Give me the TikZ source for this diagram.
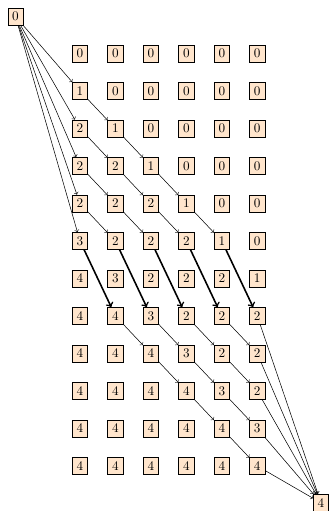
\documentclass[tikz,border=0pt]{standalone}
\begin{document}
\begin{tikzpicture}[cell/.style={draw, fill=orange!20}]
    \useasboundingbox (0,0) rectangle (8.747,-13.627);
    % start and end
    \node[cell] (start) at (0.413,-0.44) {$0$};
    \node[cell] (stop) at (8.56,-13.41) {$4$};
    % grid of values
    \foreach \vals [count=\r] in {{0,0,0,0,0,0},{1,0,0,0,0,0},{2,1,0,0,0,0},
        {2,2,1,0,0,0},{2,2,2,1,0,0},{3,2,2,2,1,0},{4,3,2,2,2,1},{4,4,3,2,2,2},
        {4,4,4,3,2,2},{4,4,4,4,3,2},{4,4,4,4,4,3},{4,4,4,4,4,4}}
        \foreach \v [count=\c] in \vals
            \node[cell] (c-\r-\c) at ({2.133+0.9456*(\c-1)},{-1.427-(\r-1)}) {$\v$};
    % edges
    \foreach \r in {2,...,6}
        \draw[->] (start) -- (c-\r-1);
    \foreach \r in {2,...,5} {
        \pgfmathtruncatemacro{\rr}{\r+1}
        \pgfmathtruncatemacro{\cmax}{\r-1}
        \foreach \c in {1,...,\cmax} {
            \pgfmathtruncatemacro{\cc}{\c+1}
            \draw[->] (c-\r-\c) -- (c-\rr-\cc);
        }
    }
    \foreach \c in {1,...,5} {
        \pgfmathtruncatemacro{\cc}{\c+1}
        \draw[->,very thick] (c-6-\c) -- (c-8-\cc);
    }
    \foreach \r in {8,...,11} {
        \pgfmathtruncatemacro{\rr}{\r+1}
        \pgfmathtruncatemacro{\cmin}{\r-6}
        \foreach \c in {\cmin,...,5} {
            \pgfmathtruncatemacro{\cc}{\c+1}
            \draw[->] (c-\r-\c) -- (c-\rr-\cc);
        }
    }
    \foreach \r in {8,...,12}
        \draw[->] (c-\r-6) -- (stop);
\end{tikzpicture}
\end{document}
